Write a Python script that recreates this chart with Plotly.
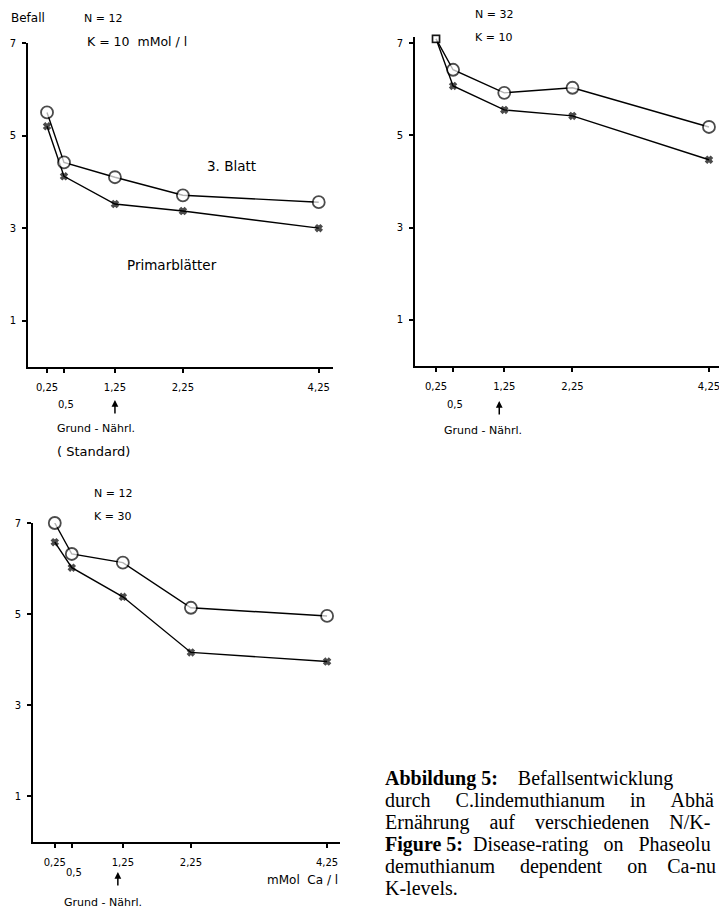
import plotly.graph_objects as go

W, H = 719, 913

# ---------------- data ----------------
ca_levels = [0.25, 0.5, 1.25, 2.25, 4.25]
ca_tick_labels = ["0,25", "0,5", "1,25", "2,25", "4,25"]
y_ticks = [1, 3, 5, 7]
y_tick_labels = ["1", "3", "5", "7"]

# panel A: N = 12, K = 10 mMol/l
a_blatt3 = [5.50, 4.42, 4.10, 3.71, 3.56]
a_primar = [5.20, 4.12, 3.52, 3.37, 3.00]
# panel B: N = 32, K = 10
b_blatt3 = [7.09, 6.42, 5.92, 6.03, 5.18]
b_primar = [7.09, 6.07, 5.55, 5.42, 4.47]
# panel C: N = 12, K = 30
c_blatt3 = [7.00, 6.32, 6.13, 5.14, 4.96]
c_primar = [6.58, 6.02, 5.38, 4.16, 3.96]

NB = "\u00a0"
caption_lines = [
    "<b>Abbildung 5:</b>" + NB * 4 + "Befallsentwicklung",
    "durch" + NB * 5 + "C.lindemuthianum" + NB * 5 + "in" + NB * 5 + "Abhä",
    "Ernährung" + NB * 4 + "auf" + NB * 4 + "verschiedenen" + NB * 4 + "N/K-",
    "<b>Figure 5:</b>" + NB * 2 + "Disease-rating" + NB * 3 + "on" + NB * 3 + "Phaseolu",
    "demuthianum" + NB * 5 + "dependent" + NB * 5 + "on" + NB * 4 + "Ca-nu",
    "K-levels.",
]

# ---------------- helpers ----------------
def px(x):
    return x / W

def py(y):
    return 1 - y / H

LABEL_FONT = dict(family="DejaVu Sans", size=10, color="black")
TEXT_FONT = dict(family="DejaVu Sans", size=11, color="black")

def font(size):
    return dict(family="DejaVu Sans", size=size, color="black")

fig = go.Figure()

panels = [
    # (xaxis, yaxis, blatt3, primar, x domain px, y domain px (top, bottom), x range, y range, square first)
    ("x", "y", a_blatt3, a_primar, (28, 333), (43, 367), (-0.03, 4.46), (0, 7), False),
    ("x2", "y2", b_blatt3, b_primar, (415, 719), (37, 366), (-0.058, 4.397), (0, 7.13), True),
    ("x3", "y3", c_blatt3, c_primar, (33, 340), (523, 842), (-0.07, 4.44), (0, 7), False),
]

layout_axes = {}
for i, (xa, ya, bl, pr, xd, yd, xr, yr, square_first) in enumerate(panels):
    n = len(ca_levels)
    circ_sym = ["circle"] * n
    circ_size = [12] * n
    x_sym = ["x"] * n
    x_size = [6] * n
    x_col = ["black"] * n
    if square_first:
        circ_sym[0] = "square"
        circ_size[0] = 7
        x_sym[0] = "square"
        x_size[0] = 7
        x_col[0] = "white"
    fig.add_trace(go.Scatter(
        x=ca_levels, y=pr, xaxis=xa, yaxis=ya, mode="lines+markers",
        line=dict(color="black", width=1.4),
        marker=dict(symbol=x_sym, size=x_size, color=x_col,
                    line=dict(color="black", width=1.2)),
        cliponaxis=False, showlegend=False, name="Primärblätter"))
    fig.add_trace(go.Scatter(
        x=ca_levels, y=bl, xaxis=xa, yaxis=ya, mode="lines+markers",
        line=dict(color="black", width=1.4),
        marker=dict(symbol=circ_sym, size=circ_size, color="white",
                    line=dict(color="black", width=1.8)),
        cliponaxis=False, showlegend=False, name="3. Blatt"))

    suffix = "" if i == 0 else str(i + 1)
    layout_axes["xaxis" + suffix] = dict(
        domain=[px(xd[0]), px(xd[1])], range=list(xr), anchor=ya,
        automargin=False,
        showline=True, linecolor="black", linewidth=2, mirror=False,
        showgrid=False, zeroline=False,
        ticks="outside", ticklen=4, tickwidth=1.5, tickcolor="black",
        tickvals=ca_levels,
        ticktext=["" if v == 0.5 else t for v, t in zip(ca_levels, ca_tick_labels)],
        tickfont=LABEL_FONT, ticklabelstandoff=6, ticklabeloverflow="allow",
    )
    layout_axes["yaxis" + suffix] = dict(
        domain=[py(yd[1]), py(yd[0])], range=list(yr), anchor=xa,
        automargin=False,
        showline=True, linecolor="black", linewidth=2,
        showgrid=False, zeroline=False,
        ticks="outside", ticklen=4, tickwidth=1.5, tickcolor="black",
        tickvals=y_ticks, ticktext=y_tick_labels,
        tickfont=LABEL_FONT, ticklabelstandoff=4,
    )

fig.update_layout(**layout_axes)

ann = []

def text(t, x, y, anchor="left", f=TEXT_FONT):
    ann.append(dict(text=t, x=px(x), y=py(y), xref="paper", yref="paper",
                    xanchor=anchor, yanchor="middle", showarrow=False, font=f))

# panel A
text("Befall", 28, 18, "center", font(12))
text("N = 12", 82, 18)
text("K = 10  mMol / l", 85, 42, "left", font(12.5))
text("3. Blatt", 231, 166, "center", font(13.5))
text("Primarblätter", 172, 265, "center", font(13.5))
text("Grund - Nährl.", 55, 428)
text("( Standard)", 55, 452, "left", font(13))
# panel B
text("N = 32", 473, 15)
text("K = 10", 473, 38)
text("Grund - Nährl.", 442, 430)
# panel C
text("N = 12", 92, 493)
text("K = 30", 92, 516)
text("mMol  Ca / l", 265, 880, "left", font(12))
text("Grund - Nährl.", 62, 902)

# second-row tick label "0,5" and arrows at the standard 1,25
half = ca_tick_labels[ca_levels.index(0.5)]
for xa, y_half, y_head, y_tail, xs in [("x", 405, 400, 415, 0), ("x2", 405, 401, 416, -5), ("x3", 880, 872, 887, -5)]:
    ann.append(dict(text=half, x=0.5, xref=xa, y=py(y_half), yref="paper",
                    xshift=2, showarrow=False, font=LABEL_FONT))
    ann.append(dict(text="", x=1.25, xref=xa, y=py(y_head), yref="paper", xshift=xs,
                    showarrow=True, arrowhead=2, arrowsize=0.9, arrowwidth=1.5,
                    arrowcolor="black", ax=0, ay=y_tail - y_head))

# caption
cap_font = dict(family="Liberation Serif", size=20, color="black")
for k, line in enumerate(caption_lines):
    ann.append(dict(text=line, x=px(383), y=py(778 + k * 22), xref="paper", yref="paper",
                    xanchor="left", yanchor="middle", showarrow=False, font=cap_font))

fig.update_layout(
    width=W, height=H, margin=dict(l=0, r=0, t=0, b=0),
    paper_bgcolor="white", plot_bgcolor="white",
    annotations=ann, showlegend=False,
)

fig.write_html("out.html", config={"displayModeBar": False},
               post_script="document.body.style.margin='0px';document.body.style.overflow='hidden';")
